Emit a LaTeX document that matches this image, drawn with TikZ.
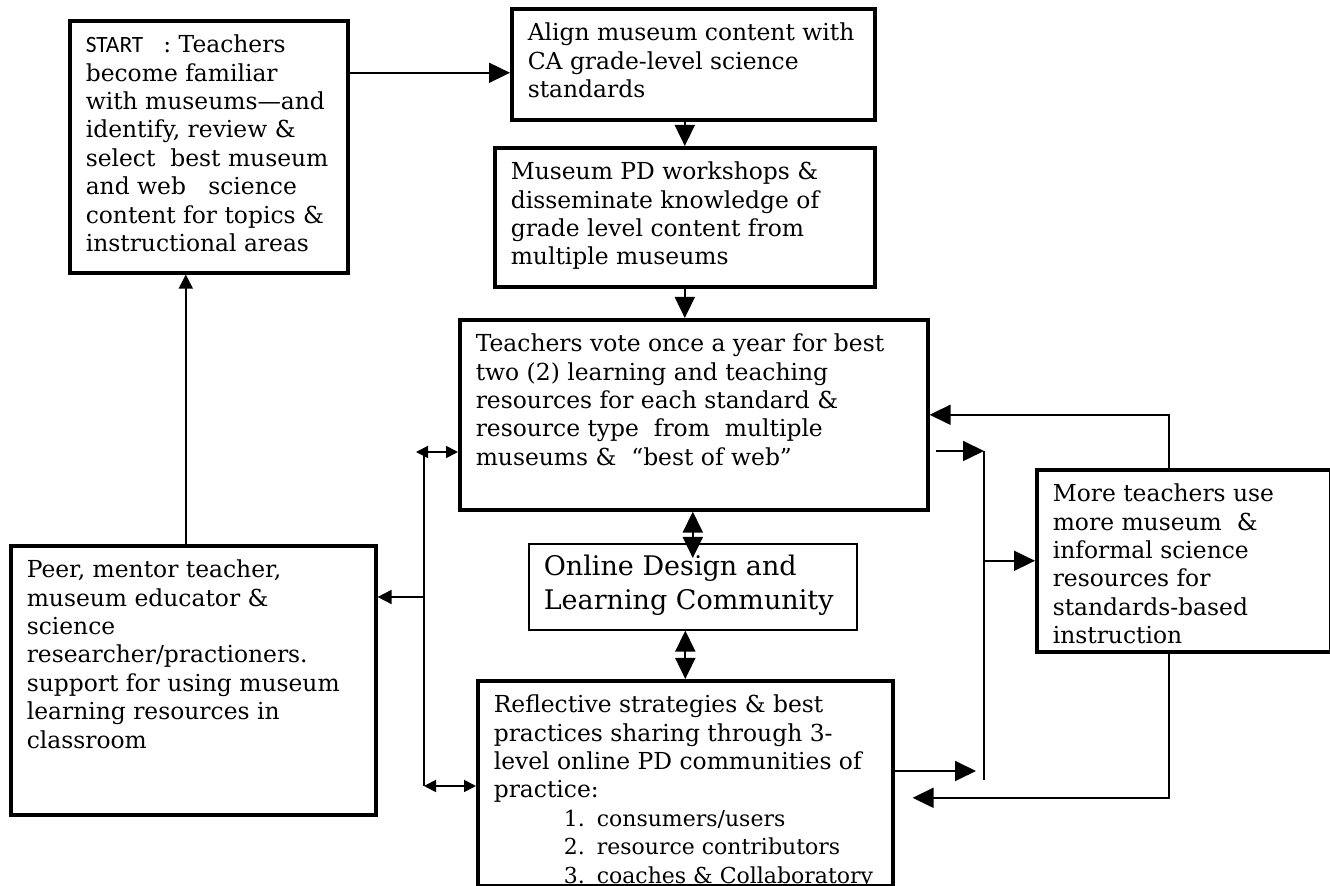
\documentclass[tikz,border=0pt]{standalone}
\usepackage{fontspec}
\setmainfont{DejaVu Serif}
\newfontfamily\startfont{Carlito}
\usetikzlibrary{arrows.meta, calc}
% text block of a box: width, height, lines
\newcommand{\boxtext}[3]{\parbox[t][#2][t]{#1}{\raggedright\rule{0pt}{16pt}#3}}
\newcommand{\listline}[2]{\hspace*{35pt}\rlap{\fontsize{11}{14.2}\selectfont\makebox[16.5pt][l]{#1}#2}}

\begin{document}
\begin{tikzpicture}[x=0.5pt, y=-0.5pt, >={Triangle[length=10.5pt,width=10pt]},
  box/.style={draw, line width=1.8pt, anchor=north west, inner xsep=8pt, inner ysep=0pt, font=\fontsize{11.7}{14.2}\selectfont},
  con/.style={line width=0.9pt},
  mid/.style={con, -{Triangle[length=7pt,width=7pt]}},
  small/.style={con, {Triangle[length=6pt,width=6pt]}-{Triangle[length=6pt,width=6pt]}}]
\useasboundingbox (0,0) rectangle (1330,886);
% boxes
\node[box] (A) at (68,19) {\boxtext{123pt}{126pt}{{\startfont START}\hspace{10pt}: Teachers\\ become familiar\\ with museums—and\\ identify, review \&\\ select\ \ best museum\\ and web\ \ \ science\\ content for topics \&\\ instructional areas}};
\node[box] (B) at (510,7) {\boxtext{165.5pt}{55.5pt}{Align museum content with\\ CA grade-level science\\ standards}};
\node[box] (C) at (493,146) {\boxtext{174pt}{69.5pt}{Museum PD workshops \&\\ disseminate knowledge of\\ grade level content from\\ multiple museums}};
\node[box] (D) at (458,318) {\boxtext{218pt}{95pt}{Teachers vote once a year for best\\ two (2) learning and teaching\\ resources for each standard \&\\ resource type\ \ from\ \ multiple\\ museums \&\ \ “best of web”}};
\node[box, line width=0.8pt, inner xsep=7.5pt, font=\fontsize{13.5}{17}\selectfont] (O) at (528,543) {\boxtext{149pt}{43pt}{Online Design and\\ Learning Community}};
\node[box] (E) at (9,544) {\boxtext{166.5pt}{134.5pt}{Peer, mentor teacher,\\ museum educator \&\\ science\\ researcher/practioners.\\ support for using museum\\ learning resources in\\ classroom}};
\node[box] (R) at (476,679) {\boxtext{191.5pt}{102.5pt}{Reflective strategies \& best\\ practices sharing through 3-\\ level online PD communities of\\ practice:\\
  \listline{1.}{consumers/users}\\ \listline{2.}{resource contributors}\\ \listline{3.}{coaches \& Collaboratory}}};
\node[box] (M) at (1035,468) {\boxtext{131pt}{91pt}{More teachers use\\ more museum\ \ \&\\ informal science\\ resources for\\ standards-based\\ instruction}};
% main chain
\draw[con,->] ([yshift=-4.25pt]B.west -| A.east) -- ([yshift=-4.25pt]B.west);
\draw[con,->] (C.north |- B.south) -- (C.north);
\draw[con,->] (C.south) -- (C.south |- D.north);
\draw[con,<->] (O.north |- D.south) -- ([yshift=-7.5pt]O.north);
\draw[con,<->] (R.north |- O.south) -- (R.north);
\draw[mid] ([xshift=-3.75pt]E.north) -- ([xshift=-3.75pt]E.north |- A.south);
% left bus
\coordinate (lt) at (424,452); \coordinate (lb) at (424,786); \coordinate (le) at (424,597);
\draw[small] ([xshift=-4pt]lt) -- (lt -| D.west);
\draw[con] (lt) -- (lb);
\draw[small] (lb) -- (lb -| R.west);
\draw[mid] (le) -- (le -| E.east);
% right bus
\coordinate (rt) at (984,451); \coordinate (rb) at (984,780); \coordinate (rr) at (976,771);
\draw[con,->] ([xshift=3pt]D.east |- rt) -- (rt);
\draw[con] (rt) -- (rb);
\draw[con,->] (rb |- M.west) -- (M.west);
\draw[con,->] (rr -| R.east) -- (rr);
\draw[con,->] ([xshift=-7.5pt]M.north) |- (D.east);
\draw[con,->] ([xshift=-7.5pt]M.south) |- ([xshift=9pt,yshift=-7.25pt]R.east);
\end{tikzpicture}
\end{document}
